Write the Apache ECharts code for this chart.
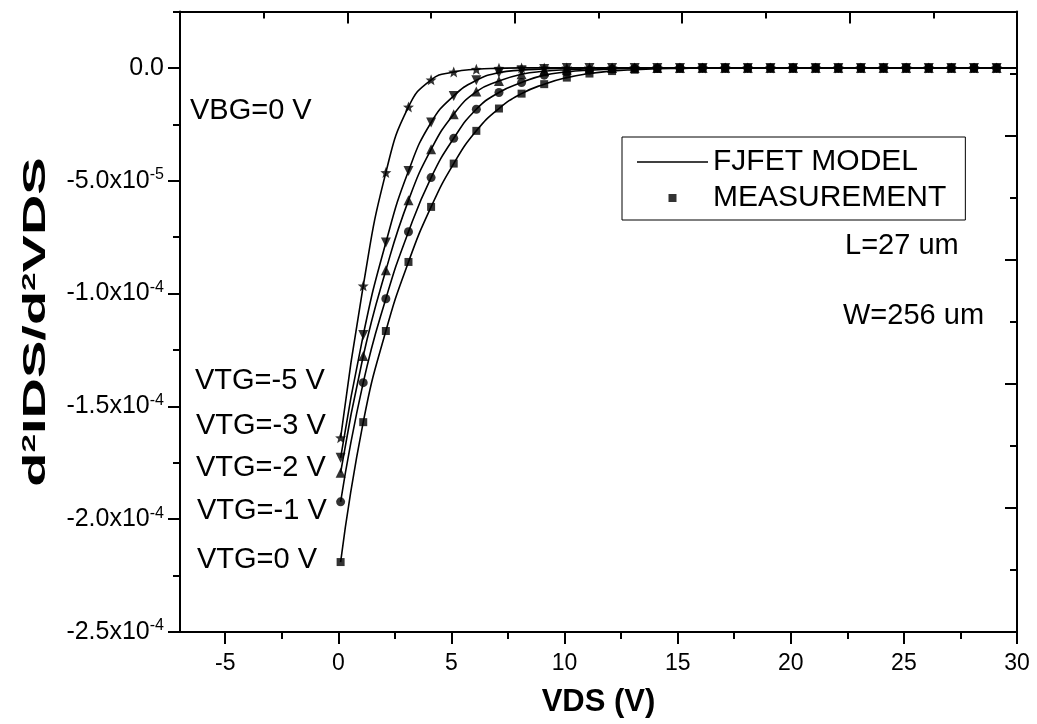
<!DOCTYPE html>
<html>
<head>
<meta charset="utf-8">
<script src="https://cdn.jsdelivr.net/npm/echarts@6/dist/echarts.min.js"></script>
<style>
html,body{margin:0;padding:0;background:#fff;}
#chart{width:1037px;height:724px;}
</style>
</head>
<body>
<div id="chart"></div>
<script>
// measured VDS points (V)
const vds=[0.1,1.1,2.1,3.1,4.1,5.1,6.1,7.1,8.1,9.1,10.1,11.1,12.1,13.1,14.1,15.1,16.1,17.1,18.1,19.1,20.1,21.1,22.1,23.1,24.1,25.1,26.1,27.1,28.1,29.1];

// d2IDS/d2VDS for each top gate voltage
const vtg0=[-2.19e-4,-1.57e-4,-1.166e-4,-8.6e-5,-6.16e-5,-4.24e-5,-2.79e-5,-1.8e-5,-1.14e-5,-7.2e-6,-4.3e-6,-2.5e-6,-1.4e-6,-8e-7,-4e-7,-2e-7,0,0,0,0,0,0,0,0,0,0,0,0,0,0];
const vtgm1=[-1.923e-4,-1.395e-4,-1.023e-4,-7.26e-5,-4.86e-5,-3.12e-5,-1.83e-5,-1.09e-5,-6.5e-6,-3.2e-6,-1.8e-6,-1e-6,-5e-7,-2e-7,0,0,0,0,0,0,0,0,0,0,0,0,0,0,0,0];
const vtgm2=[-1.794e-4,-1.277e-4,-8.97e-5,-5.87e-5,-3.61e-5,-2.05e-5,-1.05e-5,-5.8e-6,-2.8e-6,-1.5e-6,-8e-7,-4e-7,0,0,0,0,0,0,0,0,0,0,0,0,0,0,0,0,0,0];
const vtgm3=[-1.728e-4,-1.184e-4,-7.74e-5,-4.57e-5,-2.42e-5,-1.24e-5,-5.5e-6,-2.1e-6,-1e-6,-5e-7,0,0,0,0,0,0,0,0,0,0,0,0,0,0,0,0,0,0,0,0];
const vtgm5=[-1.639e-4,-9.66e-5,-4.64e-5,-1.73e-5,-5.3e-6,-1.8e-6,-6e-7,-2e-7,0,0,0,0,0,0,0,0,0,0,0,0,0,0,0,0,0,0,0,0,0,0];

// model line runs on to the right frame
const modelEnd=[30,0];

const xTicks=[-5,0,5,10,15,20,25,30];
const xMinor=[-2.5,2.5,7.5,12.5,17.5,22.5,27.5];
const yTicks=[-2.5e-4,-2.0e-4,-1.5e-4,-1.0e-4,-5.0e-5,0];
const yMinor=[-2.25e-4,-1.75e-4,-1.25e-4,-7.5e-5,-2.5e-5,2.5e-5];
const frameTicks=[0,2,4,6,8,10];
const frameMinor=[1,3,5,7,9];

const FONT="Liberation Sans, Arial, sans-serif";
const STAR="path://M0,-10L2.6,-3.4L9.5,-3.1L4.1,1.3L5.9,8.1L0,4.2L-5.9,8.1L-4.1,1.3L-9.5,-3.1L-2.6,-3.4Z";

const curves=[
    {y:vtg0,symbol:"rect",rotate:0,size:8},
    {y:vtgm1,symbol:"circle",rotate:0,size:9},
    {y:vtgm2,symbol:"triangle",rotate:0,size:10},
    {y:vtgm3,symbol:"triangle",rotate:180,size:10},
    {y:vtgm5,symbol:STAR,rotate:0,size:11}
];

const series=[];
curves.forEach(c=>{
    const pts=vds.map((x,i)=>[x,c.y[i]]);
    series.push({
        name:"FJFET MODEL",
        type:"line",
        smooth:0.5,
        symbol:"none",
        itemStyle:{color:"#000"},
        lineStyle:{color:"#000",width:1.6},
        data:pts.concat([modelEnd]),
        z:2
    });
    series.push({
        name:"MEASUREMENT",
        type:"scatter",
        symbol:c.symbol,
        symbolRotate:c.rotate,
        symbolSize:c.size,
        itemStyle:{color:"#000"},
        data:pts,
        z:3
    });
});

function yLabel(v){
    if(Math.abs(v)<1e-12) return "{a|0.0}";
    const parts=v.toExponential(1).split("e");
    return "{a|"+parts[0]+"x10}{s|"+Number(parts[1])+"}";
}

const axisLine={show:true,onZero:false,lineStyle:{color:"#000",width:2}};

function tickAxis(extra){
    return Object.assign({
        type:"value",
        splitLine:{show:false},
        axisLine:axisLine
    },extra);
}

function hiddenLine(){
    return {show:false,onZero:false};
}

function annot(text,x,y){
    return {
        type:"text",
        x:x,
        y:y,
        style:{text:text,fontSize:29,fontFamily:FONT,fill:"#000",verticalAlign:"middle"}
    };
}

const chart=echarts.init(document.getElementById("chart"));

chart.setOption({
    animation:false,
    backgroundColor:"#fff",
    grid:{left:180,right:20,top:11.5,bottom:92},
    legend:{
        orient:"vertical",
        left:622,
        top:137,
        borderColor:"#000",
        borderWidth:1,
        padding:[8,19,5,15],
        itemGap:2,
        itemWidth:71,
        itemHeight:8,
        selectedMode:false,
        textStyle:{fontSize:30,fontFamily:FONT,color:"#000",lineHeight:34},
        data:[
            {name:"FJFET MODEL",icon:"path://M0,0H100V2H0Z"},
            {name:"MEASUREMENT",icon:"path://M0,0H10V10H0Z"}
        ]
    },
    xAxis:[
        tickAxis({
            position:"bottom",min:-7,max:30,
            axisTick:{show:true,length:12,lineStyle:{color:"#000",width:2},customValues:xTicks},
            axisLabel:{fontSize:23,fontFamily:FONT,color:"#000",margin:20,customValues:xTicks},
            name:"VDS (V)",
            nameLocation:"middle",
            nameGap:55,
            nameTextStyle:{fontSize:31,fontWeight:"bold",fontFamily:FONT,color:"#000"}
        }),
        tickAxis({
            position:"bottom",min:-7,max:30,
            axisLine:hiddenLine(),
            axisTick:{show:true,length:7,lineStyle:{color:"#000",width:2},customValues:xMinor},
            axisLabel:{show:false}
        }),
        tickAxis({
            position:"top",min:0,max:10,
            axisTick:{show:true,inside:true,length:12,lineStyle:{color:"#000",width:2},customValues:frameTicks},
            axisLabel:{show:false}
        }),
        tickAxis({
            position:"top",min:0,max:10,
            axisLine:hiddenLine(),
            axisTick:{show:true,inside:true,length:7,lineStyle:{color:"#000",width:2},customValues:frameMinor},
            axisLabel:{show:false}
        })
    ],
    yAxis:[
        tickAxis({
            position:"left",min:-2.5e-4,max:2.5e-5,
            axisTick:{show:true,length:12,lineStyle:{color:"#000",width:2},customValues:yTicks},
            axisLabel:{
                margin:16,
                customValues:yTicks,
                formatter:yLabel,
                rich:{
                    a:{fontSize:25,fontFamily:FONT,color:"#000",lineHeight:28},
                    s:{fontSize:16,fontFamily:FONT,color:"#000",lineHeight:10,verticalAlign:"top"}
                }
            }
        }),
        tickAxis({
            position:"left",min:-2.5e-4,max:2.5e-5,
            axisLine:hiddenLine(),
            axisTick:{show:true,length:7,lineStyle:{color:"#000",width:2},customValues:yMinor},
            axisLabel:{show:false}
        }),
        tickAxis({
            position:"right",min:0,max:10,
            axisTick:{show:true,inside:true,length:12,lineStyle:{color:"#000",width:2},customValues:frameTicks},
            axisLabel:{show:false}
        }),
        tickAxis({
            position:"right",min:0,max:10,
            axisLine:hiddenLine(),
            axisTick:{show:true,inside:true,length:7,lineStyle:{color:"#000",width:2},customValues:frameMinor},
            axisLabel:{show:false}
        })
    ],
    graphic:[
        {
            // y axis title, stretched along its baseline like the original
            type:"text",
            x:36,
            y:322,
            rotation:Math.PI/2,
            scaleX:1.75,
            style:{
                text:"d{s|2}IDS/d{s|2}VDS",
                fontSize:32,fontWeight:"bold",fontFamily:FONT,fill:"#000",
                align:"center",verticalAlign:"middle",
                rich:{s:{fontSize:19,fontWeight:"bold",fontFamily:FONT,fill:"#000",lineHeight:12,verticalAlign:"top"}}
            }
        },
        annot("VBG=0 V",190,111),
        annot("VTG=-5 V",195,381),
        annot("VTG=-3 V",196,426),
        annot("VTG=-2 V",196,468),
        annot("VTG=-1 V",197,511),
        annot("VTG=0 V",197,560),
        annot("L=27 um",845,246),
        annot("W=256 um",843,316)
    ],
    series:series
});
</script>
</body>
</html>
